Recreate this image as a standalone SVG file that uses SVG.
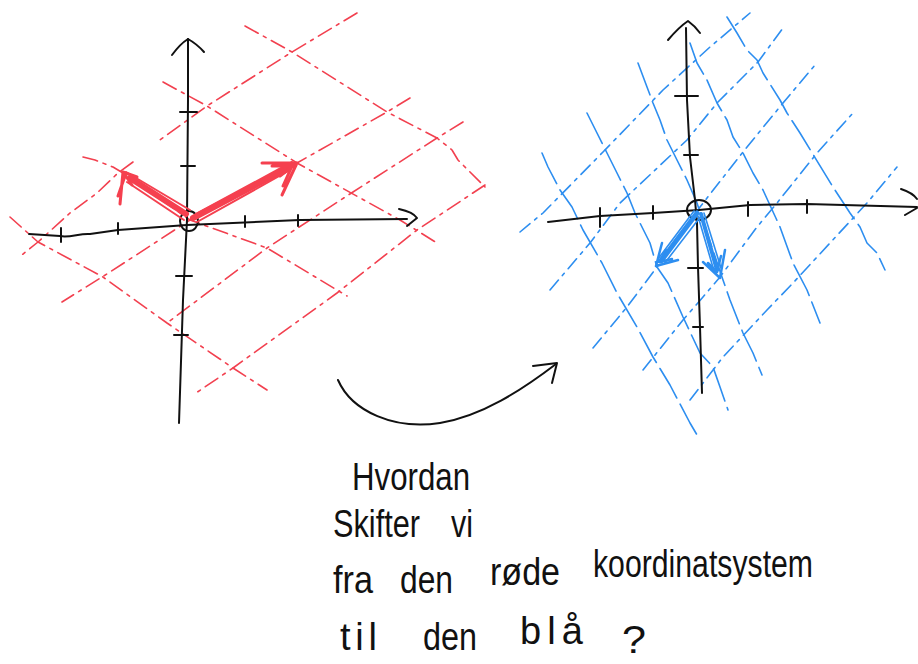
<svg xmlns="http://www.w3.org/2000/svg" width="918" height="664" viewBox="0 0 918 664">
<style>
.ax{stroke:#111;stroke-width:2;fill:none;stroke-linecap:round;stroke-linejoin:round}
.rg{stroke:#f2404f;stroke-width:1.6;fill:none;stroke-dasharray:15 6 3 6;stroke-linecap:round;stroke-linejoin:round}
.bp{stroke:#2d8ef0;stroke-width:1.6;fill:none;stroke-dasharray:13 6 3 6;stroke-linecap:round;stroke-linejoin:round}
.bq{stroke:#2d8ef0;stroke-width:1.6;fill:none;stroke-dasharray:34 7;stroke-linecap:round;stroke-linejoin:round}
.rv{stroke:#f5404f;fill:none;stroke-linecap:round;stroke-linejoin:round}
.bv{stroke:#2d8ef0;fill:none;stroke-linecap:round;stroke-linejoin:round}
.t{font-family:"Liberation Sans",Arial,sans-serif;font-size:38px;fill:#111}
</style>
<rect width="918" height="664" fill="#fff"/>

<g id="red-system">
  <g id="red-grid">
    <polyline class="rg" points="357,13 292,52 207,106 157,142"/>
    <polyline class="rg" points="410,98 387,112 297,163 190,220 110,272 62,302"/>
    <polyline class="rg" points="463,122 437,138 353,192 267,248 167,323"/>
    <polyline class="rg" points="485,185 417,230 337,293 233,368 193,395"/>
    <polyline class="rg" points="133,162 118,173 97,193 70,213 38,242 18,258"/>
    <polyline class="rg" points="245,26 292,52 387,112 437,138 452,150 458,160 470,172 485,187"/>
    <polyline class="rg" points="163,82 207,106 297,163 400,220 437,243"/>
    <polyline class="rg" points="83,157 95,160 113,167 123,173 190,220 267,248 347,296"/>
    <polyline class="rg" points="10,217 38,242 103,277 167,323 233,368 267,390"/>
  </g>
  <g id="red-axes">
    <path class="ax" d="M29,234 L60,236 C70,238 80,233 90,234 L118,230 L187,225 L300,220 L407,219"/>
    <path class="ax" d="M399,209 Q413,212 417,218 L407,226"/>
    <path class="ax" d="M61,228 V242 M118,223 V234 M245,216 V227 M298,215 V226"/>
    <path class="ax" d="M188,39 L188,100 L187,220 L183,300 L179,423"/>
    <path class="ax" d="M172,55 Q180,44 188,39 Q197,44 204,52"/>
    <path class="ax" d="M180,112 H197 M181,166 H195 M176,276 H192 M174,335 H188"/>
    <ellipse class="ax" cx="189" cy="221" rx="9" ry="10"/>
  </g>
  <g id="red-vectors">
    <path class="rv" stroke-width="6" d="M193,218 L288,168"/>
    <path class="rv" stroke-width="2" d="M196,214 L292,162 M197,222 L290,170"/>
    <path class="rv" stroke-width="3" d="M297,163 L262,163 M297,163 L282,195 M292,166 L272,166 M292,166 L283,186 M297,163 L280,176"/>
    <path class="rv" stroke-width="6" d="M186,214 L130,178"/>
    <path class="rv" stroke-width="2" d="M190,210 L126,172 M184,220 L127,182"/>
    <path class="rv" stroke-width="3" d="M123,172 L120,204 M123,172 L137,177 M125,176 L118,196 M123,172 L132,185"/>
  </g>
</g>

<g id="blue-system">
  <g id="blue-grid">
    <polyline class="bp" points="520,232 543,213 603,152 663,90 710,47 750,13"/>
    <polyline class="bp" points="550,290 590,243 620,203 687,140 717,103 758,62 783,28"/>
    <polyline class="bp" points="593,348 627,307 657,267 700,207 743,152 783,103 815,65"/>
    <polyline class="bp" points="643,370 683,320 703,297 720,277 757,227 777,203 817,153 853,113"/>
    <polyline class="bp" points="690,400 723,357 767,310 793,283 867,203 897,167"/>
    <polyline class="bq" points="542,153 548,167 560,190 572,207 583,230 602,263 617,293 637,327 653,357 670,385 690,423 700,440"/>
    <polyline class="bq" points="587,113 597,133 607,153 617,173 627,193 635,213 650,243 657,267 668,283 683,317 700,353 713,367 720,387 728,410"/>
    <polyline class="bq" points="638,63 647,87 653,103 660,120 667,140 677,160 687,180 697,203 723,280 730,300 743,333 753,353 762,375"/>
    <polyline class="bq" points="690,43 697,63 707,80 717,103 727,120 733,137 743,153 753,173 763,190 780,227 793,263 807,290 820,323"/>
    <polyline class="bq" points="727,17 737,33 747,50 757,60 763,73 780,100 787,113 800,133 833,187 850,213 860,227 867,243 877,253 885,270"/>
  </g>
  <g id="blue-axes">
    <path class="ax" d="M548,222 L600,216 L653,213 L699,210 L750,205 L807,204 L917,207"/>
    <path class="ax" d="M901,189 Q913,193 917,199 M917,208 L905,215"/>
    <path class="ax" d="M600,208 V227 M653,206 V219 M748,202 V216 M807,200 V213"/>
    <path class="ax" d="M686,28 L687,100 L690,157 L695,200 L697,223 L698,267 L700,327 L702,393"/>
    <path class="ax" d="M668,40 Q679,27 688,21 Q695,26 700,33"/>
    <path class="ax" d="M675,96 H698 M684,155 H698 M688,268 H703 M693,327 H703"/>
    <ellipse class="ax" cx="699" cy="210" rx="12" ry="10"/>
  </g>
  <g id="blue-vectors">
    <path class="bv" stroke-width="5" d="M697,213 L661,261"/>
    <path class="bv" stroke-width="1.6" d="M694,211 L658,259 M701,216 L664,264"/>
    <path class="bv" stroke-width="2.5" d="M656,266 L662,243 M656,266 L678,260 M659,262 L666,250 M659,262 L672,259"/>
    <path class="bv" stroke-width="4" d="M701,214 L717,270"/>
    <path class="bv" stroke-width="1.6" d="M704,213 L721,268 M698,216 L714,271"/>
    <path class="bv" stroke-width="2.5" d="M720,278 L725,250 M720,278 L703,262 M717,272 L721,256 M717,272 L708,263"/>
  </g>
</g>

<g id="connectors">
  <path class="ax" d="M338,380 C352,412 395,430 440,423 C482,416 522,390 556,364"/>
  <path class="ax" d="M533,366 L557,363 L552,383"/>
</g>

<g id="caption">
  <text class="t" x="352" y="490" textLength="118" lengthAdjust="spacingAndGlyphs">Hvordan</text>
  <text class="t" x="333" y="537" textLength="87" lengthAdjust="spacingAndGlyphs">Skifter</text>
  <text class="t" x="451" y="537" textLength="22" lengthAdjust="spacingAndGlyphs">vi</text>
  <text class="t" x="333" y="593" textLength="40" lengthAdjust="spacingAndGlyphs">fra</text>
  <text class="t" x="400" y="593" textLength="53" lengthAdjust="spacingAndGlyphs">den</text>
  <text class="t" x="490" y="585" textLength="70" lengthAdjust="spacingAndGlyphs">røde</text>
  <text class="t" x="593" y="577" textLength="220" lengthAdjust="spacingAndGlyphs">koordinatsystem</text>
  <text class="t" x="340" y="650" textLength="37" lengthAdjust="spacing">til</text>
  <text class="t" x="423" y="650" textLength="54" lengthAdjust="spacingAndGlyphs">den</text>
  <text class="t" x="520" y="644" textLength="63" lengthAdjust="spacing">blå</text>
  <text class="t" x="622" y="653" font-size="66" textLength="24" lengthAdjust="spacingAndGlyphs">?</text>
</g>
</svg>
